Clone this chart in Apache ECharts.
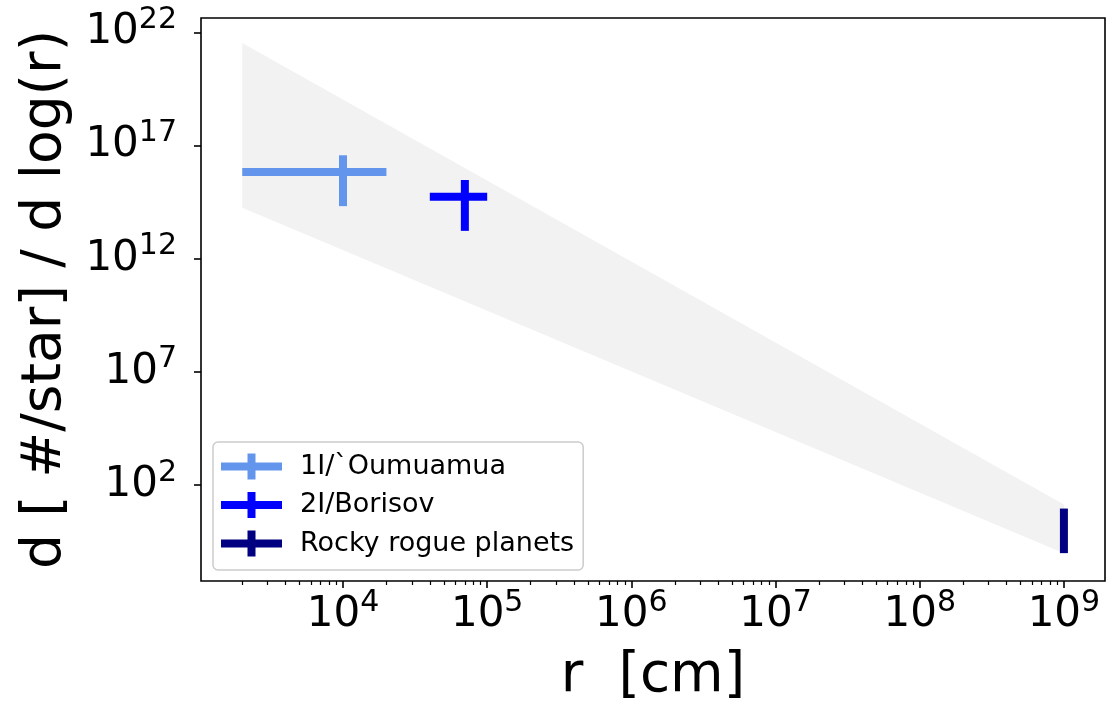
<!DOCTYPE html>
<html>
<head>
<meta charset="utf-8">
<script src="https://cdn.jsdelivr.net/npm/echarts@6/dist/echarts.min.js"></script>
<style>
  html, body { margin: 0; padding: 0; background: #fff; }
  #chart { width: 1117px; height: 709px; }
</style>
</head>
<body>
<div id="chart"></div>
<script>
// shaded band (edges)
var bandR = [2e3, 1e9];
var bandUpper = [3.4e21, 14];
var bandLower = [1.8e14, 0.1];

// error-bar points: r, value, r low, r high, value low, value high
var seriesNames = ['1I/`Oumuamua', '2I/Borisov', 'Rocky rogue planets'];
var seriesColors = ['#6495ed', '#0000ff', '#000080'];
var pointR = [1e4, 7e4, 1e9];
var pointN = [6.8e15, 5.4e14, 1];
var pointRLow = [2e3, 4e4, 1e9];
var pointRHigh = [2e4, 1e5, 1e9];
var pointNLow = [2.1e14, 1.7e13, 0.1];
var pointNHigh = [3.7e16, 3e15, 9.3];

// tick positions (log10)
var xMajor = [4, 5, 6, 7, 8, 9];
var yMajor = [2, 7, 12, 17, 22];

var X_MIN = 3.015, X_MAX = 9.285;
var Y_MIN = -2.23, Y_MAX = 22.63;
var FONT = 'DejaVu Sans';

var lg = Math.log10;

var xMinor = [];
for (var n = 3; n <= 9; n++) {
    for (var k = 2; k <= 9; k++) {
        var v = lg(k * Math.pow(10, n));
        if (v > X_MIN && v < X_MAX) xMinor.push(v);
    }
}

var powLabel = function (v) { return '{b|10}{s|' + Math.round(v) + '}'; };
var labelRich = {
    b: { fontSize: 42, fontFamily: FONT, color: '#000' },
    s: { fontSize: 30, fontFamily: FONT, color: '#000', padding: [0, 0, 25, 0] }
};

var bandData = bandR.map(function (r, i) { return [lg(r), lg(bandUpper[i]), lg(bandLower[i])]; });

function errRender(params, api) {
    var c = api.coord([api.value(0), api.value(1)]);
    var xl = api.coord([api.value(2), api.value(1)]);
    var xh = api.coord([api.value(3), api.value(1)]);
    var yl = api.coord([api.value(0), api.value(4)]);
    var yh = api.coord([api.value(0), api.value(5)]);
    var st = { stroke: api.visual('color'), lineWidth: 8, lineCap: 'butt' };
    var kids = [];
    if (xh[0] - xl[0] > 0.5) kids.push({ type: 'line', shape: { x1: xl[0], y1: c[1], x2: xh[0], y2: c[1] }, style: st });
    kids.push({ type: 'line', shape: { x1: c[0], y1: yh[1], x2: c[0], y2: yl[1] }, style: st });
    return { type: 'group', children: kids };
}

var series = [{
    type: 'custom',
    name: 'band',
    silent: true,
    z: 1,
    data: [0],
    renderItem: function (params, api) {
        if (params.dataIndex !== 0) return;
        var pts = [];
        bandData.forEach(function (d) { pts.push(api.coord([d[0], d[1]])); });
        bandData.slice().reverse().forEach(function (d) { pts.push(api.coord([d[0], d[2]])); });
        return { type: 'polygon', shape: { points: pts }, style: { fill: '#f2f2f2' } };
    }
}];

seriesNames.forEach(function (nm, i) {
    series.push({
        type: 'custom',
        name: nm,
        z: 3,
        itemStyle: { color: seriesColors[i] },
        data: [[lg(pointR[i]), lg(pointN[i]), lg(pointRLow[i]), lg(pointRHigh[i]), lg(pointNLow[i]), lg(pointNHigh[i])]],
        renderItem: errRender
    });
});

var chart = echarts.init(document.getElementById('chart'));
chart.setOption({
    animation: false,
    grid: {
        left: 201, top: 18, right: 12, bottom: 128,
        show: true, borderColor: '#000', borderWidth: 1.6, backgroundColor: 'transparent'
    },
    legend: {
        orient: 'vertical',
        left: 213, top: 442,
        data: seriesNames.map(function (nm) {
            return { name: nm, icon: 'path://M0,9H26.5V0H34.5V9H61V17H34.5V26H26.5V17H0Z' };
        }),
        itemWidth: 61, itemHeight: 26, itemGap: 11.5,
        padding: [11, 9, 13, 8],
        backgroundColor: 'rgba(255,255,255,0.8)',
        borderColor: '#cccccc', borderWidth: 1.5, borderRadius: 5,
        textStyle: { fontSize: 27, fontFamily: FONT, color: '#000', padding: [0, 0, 0, 13] }
    },
    xAxis: [{
        type: 'value', min: X_MIN, max: X_MAX,
        name: 'r  [cm]', nameLocation: 'middle', nameGap: 68,
        nameTextStyle: { fontSize: 55, fontFamily: FONT, color: '#000', verticalAlign: 'top' },
        axisLine: { show: false, onZero: false },
        splitLine: { show: false },
        axisTick: { customValues: xMajor, length: 7, lineStyle: { color: '#000', width: 1.6 } },
        axisLabel: { customValues: xMajor, margin: 7, formatter: powLabel, rich: labelRich }
    }, {
        type: 'value', min: X_MIN, max: X_MAX, position: 'bottom',
        axisLine: { show: false, onZero: false },
        splitLine: { show: false },
        axisLabel: { show: false },
        axisTick: { customValues: xMinor, length: 4, lineStyle: { color: '#000', width: 1.2 } }
    }],
    yAxis: {
        type: 'value', min: Y_MIN, max: Y_MAX,
        name: 'd [ #/star] / d log(r)', nameLocation: 'middle', nameRotate: 90, nameGap: 128,
        nameTextStyle: { fontSize: 55, fontFamily: FONT, color: '#000' },
        axisLine: { show: false, onZero: false },
        splitLine: { show: false },
        axisTick: { customValues: yMajor, length: 7, lineStyle: { color: '#000', width: 1.6 } },
        axisLabel: { customValues: yMajor, margin: 24, formatter: powLabel, rich: labelRich }
    },
    series: series
});
</script>
</body>
</html>
